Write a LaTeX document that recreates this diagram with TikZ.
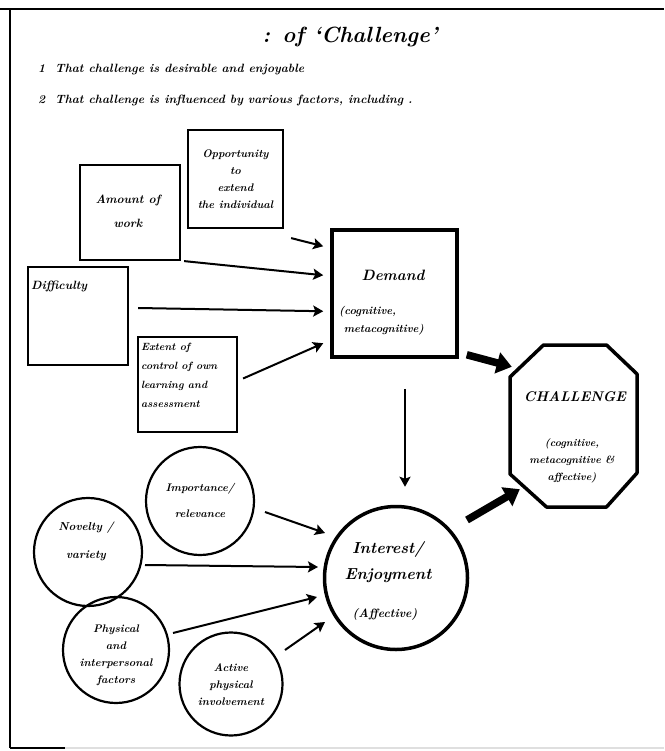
\documentclass[tikz,border=0pt]{standalone}
\usetikzlibrary{arrows.meta,calc}
\begin{document}
\begin{tikzpicture}[x=1pt,y=-1pt,
  hand/.style={font=\bfseries\itshape\fontsize{11}{17}\selectfont, align=center, inner sep=0pt},
  fbox/.style={draw, line width=2.2pt, inner sep=0pt},
  fcirc/.style={draw, circle, line width=2.2pt, inner sep=0pt},
  thin arrow/.style={line width=2pt, -{Stealth[length=10pt,width=11pt,inset=2pt]}},
  thick arrow/.style={line width=7.5pt, -{Triangle[length=15pt,width=21pt]}}]
\useasboundingbox (0,0) rectangle (664,751);
% frame
\draw[line width=2pt] (0,9) -- (664,9);
\draw[line width=2pt] (10,9) -- (10,748);
\draw[line width=1.2pt, gray!25] (10,748) -- (664,748);
\draw[line width=2pt] (10,748) -- (65,748);

% heading
\node[hand, font=\bfseries\itshape\fontsize{22}{24}\selectfont] (title) at (350,37) {: of `Challenge'};
\node[hand, font=\bfseries\itshape\fontsize{12}{15}\selectfont, anchor=west] (l1) at (38,70) {1\ \ That challenge is desirable and enjoyable};
\node[hand, font=\bfseries\itshape\fontsize{12}{15}\selectfont, anchor=west] (l2) at (38,101) {2\ \ That challenge is influenced by various factors, including .};

% demand factor boxes
\node[fbox, minimum width=95, minimum height=98] (opp) at (235.5,179) {};
\node[hand] (opptxt) at (235.5,179) {Opportunity\\to\\extend\\the individual};
\node[fbox, minimum width=100, minimum height=95] (amt) at (130,212.5) {};
\node[hand, font=\bfseries\itshape\fontsize{12}{24}\selectfont] (amttxt) at (128,211) {Amount of\\work};
\node[fbox, minimum width=100, minimum height=98] (dif) at (78,316) {};
\node[hand, font=\bfseries\itshape\fontsize{12}{14}\selectfont, anchor=north west] (diftxt) at ([shift={(4,15)}]dif.north west) {Difficulty};
\node[fbox, minimum width=99, minimum height=95] (ext) at (187.5,384.5) {};
\node[hand, align=left, anchor=north west, font=\bfseries\itshape\fontsize{10.5}{19}\selectfont] (exttxt) at ([shift={(4,7)}]ext.north west) {Extent of\\control of own\\learning and\\assessment};

% Demand
\node[draw, line width=3.5pt, minimum width=125, minimum height=127, inner sep=0pt] (dem) at (394.5,293.5) {};
\node[hand, font=\bfseries\itshape\fontsize{15}{17}\selectfont] (demtxt) at (393,275) {Demand};
\node[hand, align=left, font=\bfseries\itshape\fontsize{11}{18}\selectfont, anchor=north west] (demsub) at (339,306) {(cognitive,\\ \ metacognitive)};

% CHALLENGE octagon
\node[minimum width=127, minimum height=162, inner sep=0pt] (ch) at (573.5,426) {};
\draw[line width=3.5pt, line join=round]
  ($(ch.center)+(-30,-81)$) -- ($(ch.center)+(33,-81)$) -- ($(ch.center)+(63.5,-52)$) --
  ($(ch.center)+(63.5,47)$) -- ($(ch.center)+(33,81)$) -- ($(ch.center)+(-27,81)$) --
  ($(ch.center)+(-63.5,48)$) -- ($(ch.center)+(-63.5,-49)$) -- cycle;
\node[hand, font=\bfseries\itshape\fontsize{14}{16}\selectfont] (chtxt) at (575,397) {CHALLENGE};
\node[hand, font=\bfseries\itshape\fontsize{10.5}{17}\selectfont] (chsub) at (572,461) {(cognitive,\\metacognitive \&\\affective)};

% Interest circle and factor circles
\node[fcirc, line width=3.5pt, minimum size=143] (int) at (396,578) {};
\node[hand, font=\bfseries\itshape\fontsize{16}{26}\selectfont] (inttxt) at (388,562) {Interest/\\Enjoyment};
\node[hand, font=\bfseries\itshape\fontsize{12}{14}\selectfont] (intsub) at (385,614) {(Affective)};

\node[fcirc, minimum size=108] (imp) at (200,501) {};
\node[hand, font=\bfseries\itshape\fontsize{11}{26}\selectfont] (imptxt) at (200,500) {Importance/\\relevance};
\node[fcirc, minimum size=108] (nov) at (88,552) {};
\node[hand, font=\bfseries\itshape\fontsize{11.5}{28}\selectfont] (novtxt) at (86,541) {Novelty /\\variety};
\node[fcirc, minimum size=106] (phy) at (116,650) {};
\node[hand] (phytxt) at (116,655) {Physical\\and\\interpersonal\\factors};
\node[fcirc, minimum size=103] (act) at (231,684) {};
\node[hand] (acttxt) at (231,685) {Active\\physical\\involvement};

% connectors into Demand
\draw[thin arrow] ([shift={(7,9)}]opp.south east) -- ([shift={(-7,18)}]dem.north west);
\draw[thin arrow] ([shift={(3,0)}]amt.south east) -- ([shift={(-7,47)}]dem.north west);
\draw[thin arrow] ([shift={(9,-8)}]dif.east) -- ([shift={(-7,83)}]dem.north west);
\draw[thin arrow] ([shift={(5,-6)}]ext.east) -- ([shift={(-7,115)}]dem.north west);

% Demand -> Interest
\draw[thin arrow] ([shift={(10.5,30)}]dem.south) -- ([shift={(9,-18)}]int.north);

% into Interest
\draw[thin arrow] ($(imp.center)+(65,11)$) -- ($(int.center)+(-71,-45)$);
\draw[thin arrow] ($(nov.center)+(57,13)$) -- ($(int.center)+(-78,-11)$);
\draw[thin arrow] ($(phy.center)+(57,-17)$) -- ($(int.center)+(-79,19)$);
\draw[thin arrow] ($(act.center)+(54,-34)$) -- ($(int.center)+(-71,44)$);

% thick arrows to CHALLENGE
\draw[thick arrow] ([shift={(8,-4)}]dem.south east) -- ([shift={(2,22)}]ch.north west);
\draw[thick arrow] ($(int.center)+(71,-58)$) -- ([shift={(10,-18)}]ch.south west);
\end{tikzpicture}
\end{document}
